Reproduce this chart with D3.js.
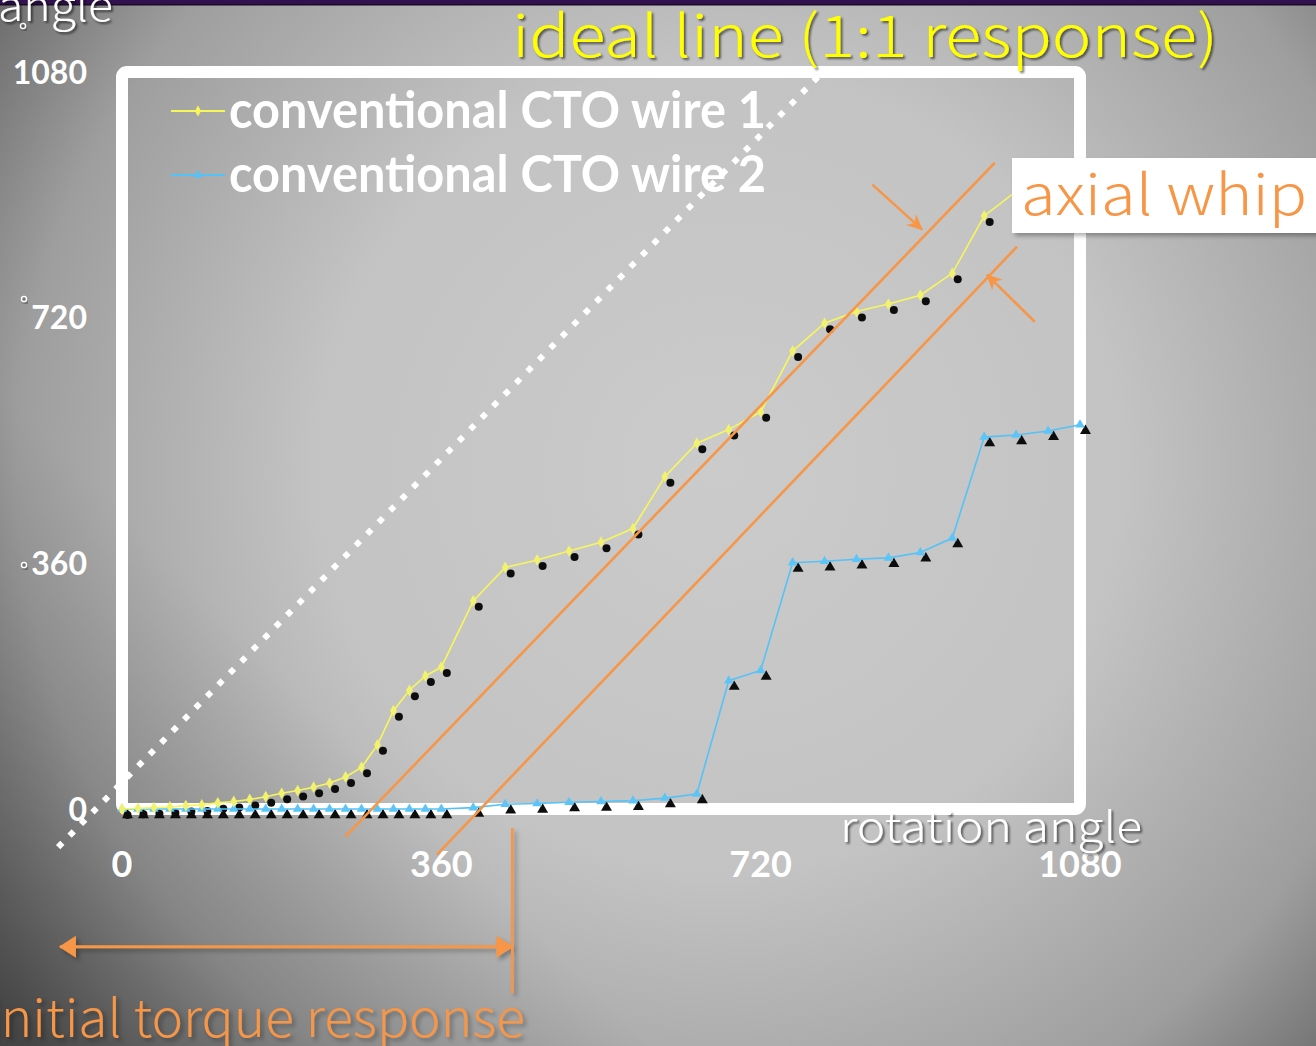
<!DOCTYPE html>
<html>
<head>
<meta charset="utf-8">
<title>torque response</title>
<script src="https://d3js.org/d3.v7.min.js"></script>
<style>
  body { margin: 0; background: #777; overflow: hidden; }
  svg { display: block; }
  .tick { fill: #fff; font-family: Lato, "Open Sans", sans-serif; font-weight: 700; }
  .light { font-family: "Noto Sans CJK JP", "Open Sans", sans-serif; font-weight: 300; }
  .legend { fill: #fff; font-family: Lato, "Open Sans", sans-serif; font-weight: 700; font-size: 51px; }
</style>
</head>
<body>
<svg></svg>
<script>
// axis ticks (degrees)
const xTicks = [0, 360, 720, 1080];
const yTicks = [0, 360, 720, 1080];

// conventional CTO wire 1 (rotation angle -> tip angle)
const wire1Angle = [0, 18, 36, 54, 72, 90, 108, 126, 144, 162, 180, 198, 216, 234, 252, 270, 288, 306, 324, 342, 360,
  396, 432, 468, 504, 540, 576, 612, 648, 684, 720, 756, 792, 828, 864, 900, 936, 972, 1008];
const wire1Response = [0, 1, 2, 3, 5, 6, 9, 11, 14, 18, 23, 27, 32, 38, 47, 61, 94, 144, 174, 195, 208,
  305, 354, 365, 378, 391, 411, 487, 536, 556, 582, 671, 712, 729, 740, 753, 785, 869, 905];

// conventional CTO wire 2
const wire2Angle = [0, 18, 36, 54, 72, 90, 108, 126, 144, 162, 180, 198, 216, 234, 252, 270, 288, 306, 324, 342, 360,
  396, 432, 468, 504, 540, 576, 612, 648, 684, 720, 756, 792, 828, 864, 900, 936, 972, 1008, 1044, 1080];
const wire2Response = [0, 0, 0, 0, 0, 0, 0, 0, 0, 0, 0, 0, 0, 0, 0, 0, 0, 0, 0, 0, 0,
  2, 7, 8, 10, 11, 12, 16, 22, 188, 203, 361, 363, 366, 368, 376, 397, 545, 548, 554, 563];

// annotations, in degrees
const idealLine = [[-72, -56], [787, 1076]];
const whipLineA = [[252, -40], [984, 947]];
const whipLineB = [[355, -67], [1009, 824]];
const whipArrowA = [[846, 915], [902, 849]];
const whipArrowB = [[1029, 714], [975, 783]];
const torqueMark = [[440, -28], [440, -270]];
const torqueSpan = [[-70, -202], [440, -202]];

const W = 1316, H = 1046;
const orange = "#f79646";

const svg = d3.select("svg").attr("width", W).attr("height", H);

const x = d3.scaleLinear().domain([0, 1080]).range([122, 1080]);
const y = d3.scaleLinear().domain([0, 1080]).range([809, 72]);

const defs = svg.append("defs");

const bg = defs.append("radialGradient").attr("id", "bg")
  .attr("gradientUnits", "userSpaceOnUse")
  .attr("cx", 720).attr("cy", 470).attr("r", 900);
[[0, "#cbcbcb"], [0.45, "#c3c3c3"], [0.78, "#9e9e9e"], [1, "#606060"]].forEach(s =>
  bg.append("stop").attr("offset", s[0]).attr("stop-color", s[1]));

const dark = defs.append("linearGradient").attr("id", "dark")
  .attr("gradientUnits", "userSpaceOnUse")
  .attr("x1", 0).attr("y1", 1046).attr("x2", 330).attr("y2", 720);
dark.append("stop").attr("offset", 0).attr("stop-color", "#000").attr("stop-opacity", 0.3);
dark.append("stop").attr("offset", 1).attr("stop-color", "#000").attr("stop-opacity", 0);

const shadow = defs.append("filter").attr("id", "shadow")
  .attr("x", "-10%").attr("y", "-20%").attr("width", "130%").attr("height", "150%");
shadow.append("feDropShadow").attr("dx", 2).attr("dy", 2).attr("stdDeviation", 1.2)
  .attr("flood-color", "#000").attr("flood-opacity", 0.55);

const softShadow = defs.append("filter").attr("id", "soft")
  .attr("x", "-10%").attr("y", "-20%").attr("width", "130%").attr("height", "150%");
softShadow.append("feDropShadow").attr("dx", 3).attr("dy", 3).attr("stdDeviation", 2)
  .attr("flood-color", "#000").attr("flood-opacity", 0.3);

const glow = defs.append("filter").attr("id", "glow");
glow.append("feGaussianBlur").attr("stdDeviation", 0.5);

defs.append("marker").attr("id", "head")
  .attr("viewBox", "-18 -10 20 20").attr("refX", 0).attr("refY", 0)
  .attr("markerUnits", "userSpaceOnUse").attr("markerWidth", 20).attr("markerHeight", 20)
  .attr("orient", "auto")
  .append("path").attr("d", "M1,0 L-15,-7.5 L-10,0 L-15,7.5 Z").attr("fill", orange);

defs.append("marker").attr("id", "tri")
  .attr("viewBox", "-18 -12 20 24").attr("refX", 0).attr("refY", 0)
  .attr("markerUnits", "userSpaceOnUse").attr("markerWidth", 20).attr("markerHeight", 24)
  .attr("orient", "auto-start-reverse")
  .append("path").attr("d", "M1,0 L-16,-11 L-16,11 Z").attr("fill", orange);

// background
svg.append("rect").attr("width", W).attr("height", H).attr("fill", "url(#bg)");
svg.append("rect").attr("width", W).attr("height", H).attr("fill", "url(#dark)");
svg.append("rect").attr("width", W).attr("height", 5).attr("fill", "#32124e");
svg.append("rect").attr("y", 4).attr("width", W).attr("height", 1.5).attr("fill", "#1a0a28");

// plot frame
svg.append("rect")
  .attr("x", x(0)).attr("y", y(1080))
  .attr("width", x(1080) - x(0)).attr("height", y(0) - y(1080))
  .attr("rx", 5)
  .attr("fill", "none").attr("stroke", "#fff").attr("stroke-width", 12);

// tick labels
svg.append("g").selectAll("text").data(yTicks).join("text")
  .attr("class", "tick").attr("font-size", 32)
  .attr("text-anchor", "end")
  .attr("x", 87).attr("y", d => y(d) + 11.5)
  .text(d => d);

svg.append("g").selectAll("text").data(xTicks).join("text")
  .attr("class", "tick").attr("font-size", 36)
  .attr("text-anchor", "middle")
  .attr("x", d => x(d)).attr("y", 877)
  .text(d => d);

// little degree rings next to the y labels
svg.append("g").selectAll("circle").data([[24, 299], [24, 565], [23, 26]]).join("circle")
  .attr("cx", d => d[0]).attr("cy", d => d[1]).attr("r", 2.6)
  .attr("fill", "none").attr("stroke", "#fff").attr("stroke-width", 1.3)
  .attr("filter", "url(#shadow)");

// axis titles
svg.append("text").attr("class", "light")
  .attr("x", -2).attr("y", 21).attr("font-size", 42)
  .attr("textLength", 115).attr("lengthAdjust", "spacingAndGlyphs")
  .attr("fill", "#fff").attr("filter", "url(#shadow)")
  .text("angle");

svg.append("text").attr("class", "light")
  .attr("x", 840).attr("y", 842).attr("font-size", 42)
  .attr("textLength", 302).attr("lengthAdjust", "spacingAndGlyphs")
  .attr("fill", "#fff").attr("filter", "url(#shadow)")
  .text("rotation angle");

const line = d3.line().x(d => x(d[0])).y(d => y(d[1]));

// ideal 1:1 dotted line
svg.append("path").attr("d", line(idealLine))
  .attr("fill", "none").attr("stroke", "#fff")
  .attr("stroke-width", 6).attr("stroke-dasharray", "6 10.3");

// data
const wire1 = wire1Angle.map((a, i) => [a, wire1Response[i]]);
const wire2 = wire2Angle.map((a, i) => [a, wire2Response[i]]);

const dx = 5.5, dy = 6;

svg.append("g").attr("filter", "url(#glow)").selectAll("path").data(wire2).join("path")
  .attr("d", d3.symbol(d3.symbolTriangle, 52))
  .attr("transform", d => `translate(${x(d[0]) + dx},${y(d[1]) + dy})`)
  .attr("fill", "#111");

svg.append("g").attr("filter", "url(#glow)").selectAll("circle").data(wire1).join("circle")
  .attr("cx", d => x(d[0]) + dx).attr("cy", d => y(d[1]) + dy)
  .attr("r", 4).attr("fill", "#111");

svg.append("path").attr("d", line(wire2))
  .attr("fill", "none").attr("stroke", "#55c2f7").attr("stroke-width", 1.6);
svg.append("g").attr("filter", "url(#glow)").selectAll("path").data(wire2).join("path")
  .attr("d", d3.symbol(d3.symbolTriangle, 40))
  .attr("transform", d => `translate(${x(d[0])},${y(d[1])})`)
  .attr("fill", "#5cc4f7");

svg.append("path").attr("d", line(wire1))
  .attr("fill", "none").attr("stroke", "#f7f75a").attr("stroke-width", 1.6);
svg.append("g").attr("filter", "url(#glow)").selectAll("path").data(wire1).join("path")
  .attr("d", d3.symbol(d3.symbolDiamond, 40))
  .attr("transform", d => `translate(${x(d[0])},${y(d[1])})`)
  .attr("fill", "#f2f26e");

// legend
const legend = svg.append("g");
[["conventional CTO wire 1", "#f7f75a", d3.symbolDiamond, 128],
 ["conventional CTO wire 2", "#55c2f7", d3.symbolTriangle, 192]].forEach(([label, col, sym, base]) => {
  const ly = base - 17;
  legend.append("line").attr("x1", 171).attr("x2", 225).attr("y1", ly).attr("y2", ly)
    .attr("stroke", col).attr("stroke-width", 1.8);
  legend.append("path").attr("d", d3.symbol(sym, 34))
    .attr("transform", `translate(198,${ly})`).attr("fill", col);
  legend.append("text").attr("class", "legend")
    .attr("x", 229).attr("y", base)
    .attr("textLength", 537).attr("lengthAdjust", "spacingAndGlyphs")
    .text(label);
});

// axial whip lines and arrows
[whipLineA, whipLineB].forEach(l =>
  svg.append("path").attr("d", line(l))
    .attr("fill", "none").attr("stroke", orange).attr("stroke-width", 2.6));
[whipArrowA, whipArrowB].forEach(l =>
  svg.append("path").attr("d", line(l))
    .attr("fill", "none").attr("stroke", orange).attr("stroke-width", 2.6)
    .attr("marker-end", "url(#head)"));

// initial torque response span
const torque = svg.append("g").attr("filter", "url(#soft)");
torque.append("path").attr("d", line(torqueMark))
  .attr("stroke", orange).attr("stroke-width", 2.6);
torque.append("path").attr("d", line(torqueSpan))
  .attr("stroke", orange).attr("stroke-width", 3)
  .attr("marker-start", "url(#tri)").attr("marker-end", "url(#tri)");

// callout texts
svg.append("text").attr("class", "light")
  .attr("x", 512).attr("y", 57).attr("font-size", 58)
  .attr("textLength", 706).attr("lengthAdjust", "spacingAndGlyphs")
  .attr("fill", "#ffff00").attr("filter", "url(#shadow)")
  .text("ideal line (1:1 response)");

svg.append("rect")
  .attr("x", 1012).attr("y", 158).attr("width", 330).attr("height", 75)
  .attr("fill", "#fff").attr("filter", "url(#soft)");
svg.append("text").attr("class", "light")
  .attr("x", 1021).attr("y", 215).attr("font-size", 56)
  .attr("textLength", 286).attr("lengthAdjust", "spacingAndGlyphs")
  .attr("fill", orange)
  .text("axial whip");

svg.append("text").attr("class", "light")
  .attr("x", -13).attr("y", 1037).attr("font-size", 52)
  .attr("textLength", 538).attr("lengthAdjust", "spacingAndGlyphs")
  .attr("fill", orange).attr("filter", "url(#soft)")
  .text("initial torque response");
</script>
</body>
</html>
